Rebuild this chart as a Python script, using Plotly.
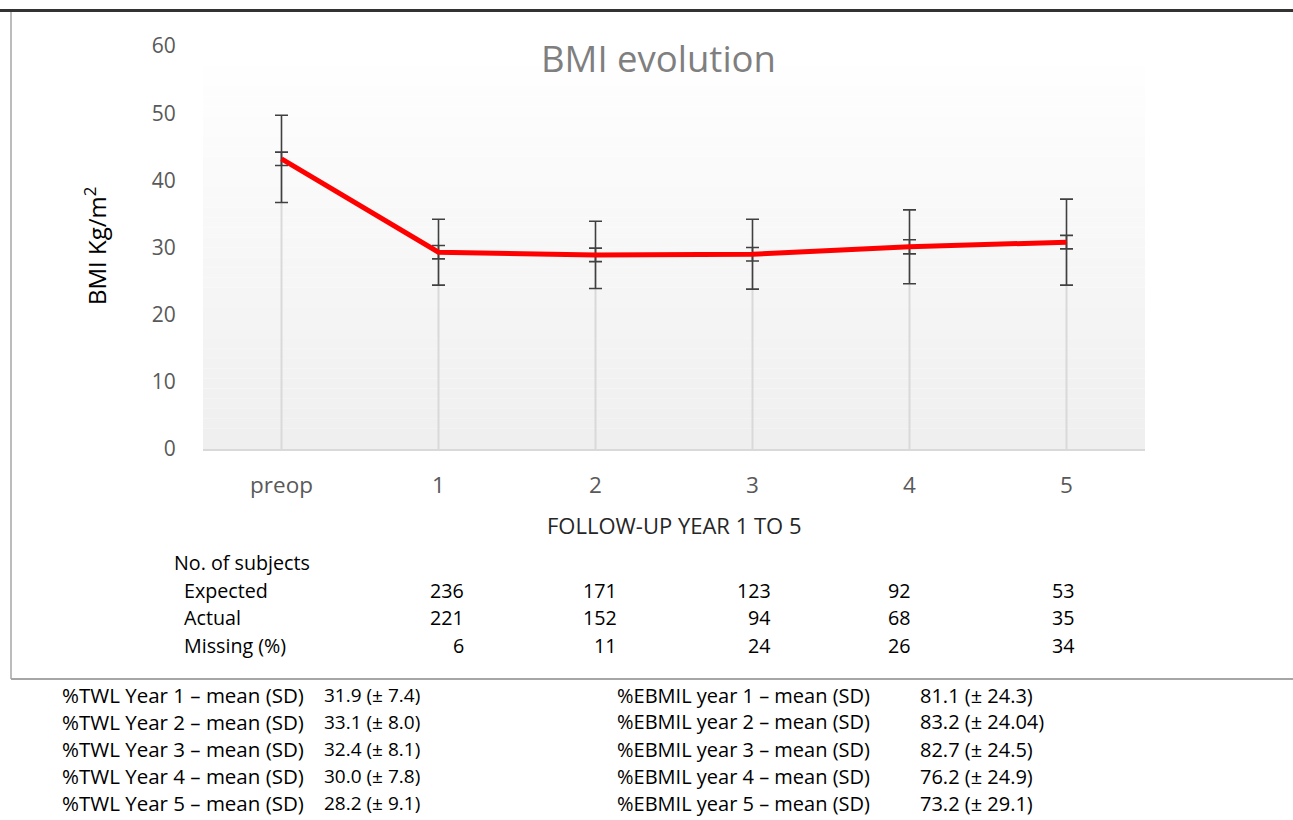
import plotly.graph_objects as go

# ---- data ----
categories = ["preop", "1", "2", "3", "4", "5"]
bmi_mean = [43.2, 29.3, 28.9, 29.0, 30.1, 30.8]
bmi_sd = [6.5, 4.9, 5.0, 5.2, 5.5, 6.4]
bmi_ci = [1.0, 1.0, 1.0, 1.0, 1.05, 1.0]
y_ticks = [0, 10, 20, 30, 40, 50, 60]

table_rows = ["Expected", "Actual", "Missing (%)"]
expected = [236, 171, 123, 92, 53]
actual = [221, 152, 94, 68, 35]
missing = [6, 11, 24, 26, 34]

twl_labels = [f"%TWL Year {i} – mean (SD)" for i in range(1, 6)]
twl_values = ["31.9 (± 7.4)", "33.1 (± 8.0)", "32.4 (± 8.1)", "30.0 (± 7.8)", "28.2 (± 9.1)"]
ebmil_labels = [f"%EBMIL year {i} – mean (SD)" for i in range(1, 6)]
ebmil_values = ["81.1 (± 24.3)", "83.2 (± 24.04)", "82.7 (± 24.5)", "76.2 (± 24.9)", "73.2 (± 29.1)"]

# ---- layout constants (pixels) ----
W, H = 1293, 820
PL, PR, PT, PB = 203, 1145, 46, 449
FONT = "'Open Sans', sans-serif"


def px(x):
    return (x - PL) / (PR - PL)


def py(y):
    return (PB - y) / (PB - PT)


fig = go.Figure()

# drop lines from points to axis
fig.add_trace(go.Scatter(
    x=categories, y=bmi_mean, mode="markers", marker=dict(size=0.1, opacity=0),
    error_y=dict(type="data", symmetric=False, array=[0] * len(bmi_mean), arrayminus=bmi_mean,
                 color="#d9d9d9", thickness=2, width=0),
    showlegend=False, hoverinfo="skip"))
# SD error bars
fig.add_trace(go.Scatter(
    x=categories, y=bmi_mean, mode="markers", marker=dict(size=0.1, opacity=0),
    error_y=dict(type="data", array=bmi_sd, color="#404040", thickness=1.6, width=6.5),
    showlegend=False, hoverinfo="skip"))
# small (CI) error bars
fig.add_trace(go.Scatter(
    x=categories, y=bmi_mean, mode="markers", marker=dict(size=0.1, opacity=0),
    error_y=dict(type="data", array=bmi_ci, color="#404040", thickness=1.6, width=6.5),
    showlegend=False, hoverinfo="skip"))
# mean line
fig.add_trace(go.Scatter(
    x=categories, y=bmi_mean, mode="lines", line=dict(color="#ff0000", width=5),
    showlegend=False))

shapes = []
# gradient background of plot area
N = 40
for i in range(N):
    t = i / (N - 1)
    c = int(round(255 - 16 * t))
    shapes.append(dict(type="rect", xref="paper", yref="paper", x0=0, x1=1,
                       y0=1 - (i + 1) / N, y1=1 - i / N,
                       fillcolor=f"rgb({c},{c},{c})", line=dict(width=0), layer="below"))
# frame lines
shapes.append(dict(type="line", xref="paper", yref="paper", x0=px(0), x1=px(W), y0=py(10.5), y1=py(10.5),
                   line=dict(color="#333333", width=3)))
shapes.append(dict(type="line", xref="paper", yref="paper", x0=px(11), x1=px(11), y0=py(12), y1=py(679),
                   line=dict(color="#a6a6a6", width=1.5)))
shapes.append(dict(type="line", xref="paper", yref="paper", x0=px(11), x1=px(W), y0=py(679), y1=py(679),
                   line=dict(color="#a6a6a6", width=2)))


def add_text(txt, x, y, size, color="#000000", xanchor="left", angle=0):
    ann.append(dict(text=txt, x=px(x), y=py(y), xref="paper", yref="paper",
                    xanchor=xanchor, yanchor="middle", textangle=angle, showarrow=False,
                    font=dict(family=FONT, size=size, color=color)))


ann = []
add_text("BMI evolution", 658, 58, 36.5, "#7f7f7f", "center")
add_text("BMI Kg/m<sup>2</sup>", 95, 246, 24, "#000000", "center", -90)
add_text("FOLLOW-UP YEAR 1 TO 5", 674, 525, 22, "#262626", "center")

# subject table
TS = 19.7
add_text("No. of subjects", 172, 562, TS)
col_right = [466, 619, 773, 913, 1077]
row_y = [590, 617, 645]
for r, (label, vals) in enumerate(zip(table_rows, [expected, actual, missing])):
    add_text(label, 182, row_y[r], TS)
    for c, v in enumerate(vals):
        add_text(str(v), col_right[c], row_y[r], TS, xanchor="right")

# bottom notes
line_y = [695, 722, 749, 776, 803]
for i in range(5):
    add_text(twl_labels[i], 60, line_y[i], 20.5)
    add_text(twl_values[i], 322, line_y[i], 19)
    add_text(ebmil_labels[i], 615, line_y[i], 20)
    add_text(ebmil_values[i], 918, line_y[i], 20)

fig.update_layout(
    width=W, height=H,
    margin=dict(l=PL, r=W - PR, t=PT, b=H - PB, autoexpand=False),
    paper_bgcolor="white", plot_bgcolor="rgba(0,0,0,0)",
    shapes=shapes, annotations=ann, showlegend=False,
    font=dict(family=FONT),
)
fig.update_xaxes(type="category", showgrid=False, zeroline=False, showline=True,
                 linecolor="#d9d9d9", linewidth=2, ticks="outside", ticklen=15,
                 tickcolor="rgba(0,0,0,0)", tickfont=dict(family=FONT, size=22.5, color="#595959"),
                 range=[-0.5, 5.5])
fig.update_yaxes(range=[0, 60], tickvals=y_ticks, showgrid=False, zeroline=False, showline=False,
                 ticks="outside", ticklen=22, tickcolor="rgba(0,0,0,0)",
                 tickfont=dict(family=FONT, size=21, color="#595959"))

fig.write_html("out.html", config={"displayModeBar": False},
               post_script="document.body.style.margin='0px';")
